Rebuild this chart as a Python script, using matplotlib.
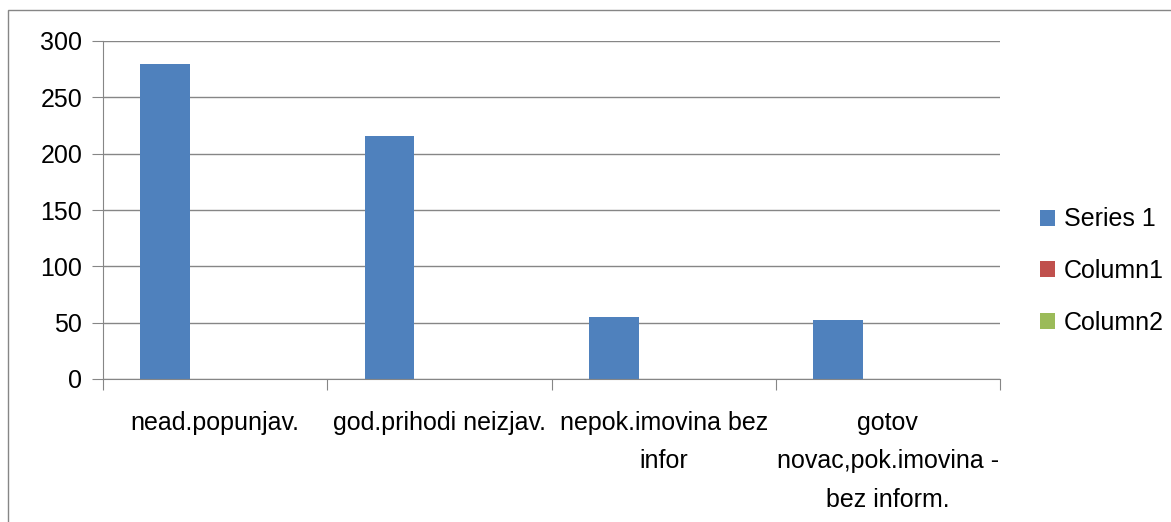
import matplotlib.pyplot as plt
import matplotlib.patches as mpatches
import numpy as np

categories = ['nead.popunjav.', 'god.prihodi neizjav.', 'nepok.imovina bez\ninfor',
              'gotov\nnovac,pok.imovina -\nbez inform.']
series_names = ['Series 1', 'Column1', 'Column2']
series_1 = [280, 216, 55, 52]
column_1 = [0, 0, 0, 0]
column_2 = [0, 0, 0, 0]
colors = ['#4F81BD', '#C0504D', '#9BBB59']

plt.rcParams['font.family'] = ['Liberation Sans', 'DejaVu Sans']
grid_col = '#868686'

fig = plt.figure(figsize=(11.71, 5.22), dpi=100)
fig.patches.append(mpatches.Rectangle((8 / 1171, -0.1), 1.2, 1 - 10 / 522 + 0.1,
                                      transform=fig.transFigure, fill=False,
                                      edgecolor=grid_col, lw=1))
ax = fig.add_axes([103 / 1171, 1 - 379 / 522, 897 / 1171, 338 / 522])

x = np.arange(len(categories))
w = 1 / 4.5
for i, vals in enumerate([series_1, column_1, column_2]):
    ax.bar(x + (i - 1) * w, vals, w, color=colors[i], label=series_names[i])

ax.set_xlim(-0.5, 3.5)
ax.set_ylim(0, 300)
ax.set_yticks(range(0, 301, 50))
ax.yaxis.grid(True, color=grid_col, lw=1)
ax.set_axisbelow(True)
for s in ['top', 'right']:
    ax.spines[s].set_visible(False)
for s in ['left', 'bottom']:
    ax.spines[s].set_color(grid_col)
ax.tick_params(axis='y', length=8, color=grid_col, labelsize=18, pad=7)
ax.set_xticks(np.arange(-0.5, 4, 1))
ax.set_xticklabels([])
ax.tick_params(axis='x', length=8, color=grid_col)
for xi, lab in zip(x, categories):
    ax.text(xi, -28, lab, ha='center', va='top', fontsize=18, linespacing=1.78)

fig.legend(*ax.get_legend_handles_labels(), loc='center left',
           bbox_to_anchor=(1040 / 1171, 1 - 271 / 522), frameon=False, fontsize=18,
           handlelength=0.6, handleheight=0.6, handletextpad=0.35, labelspacing=1.1,
           borderaxespad=0, borderpad=0)

fig.savefig('out.png', dpi=100)
